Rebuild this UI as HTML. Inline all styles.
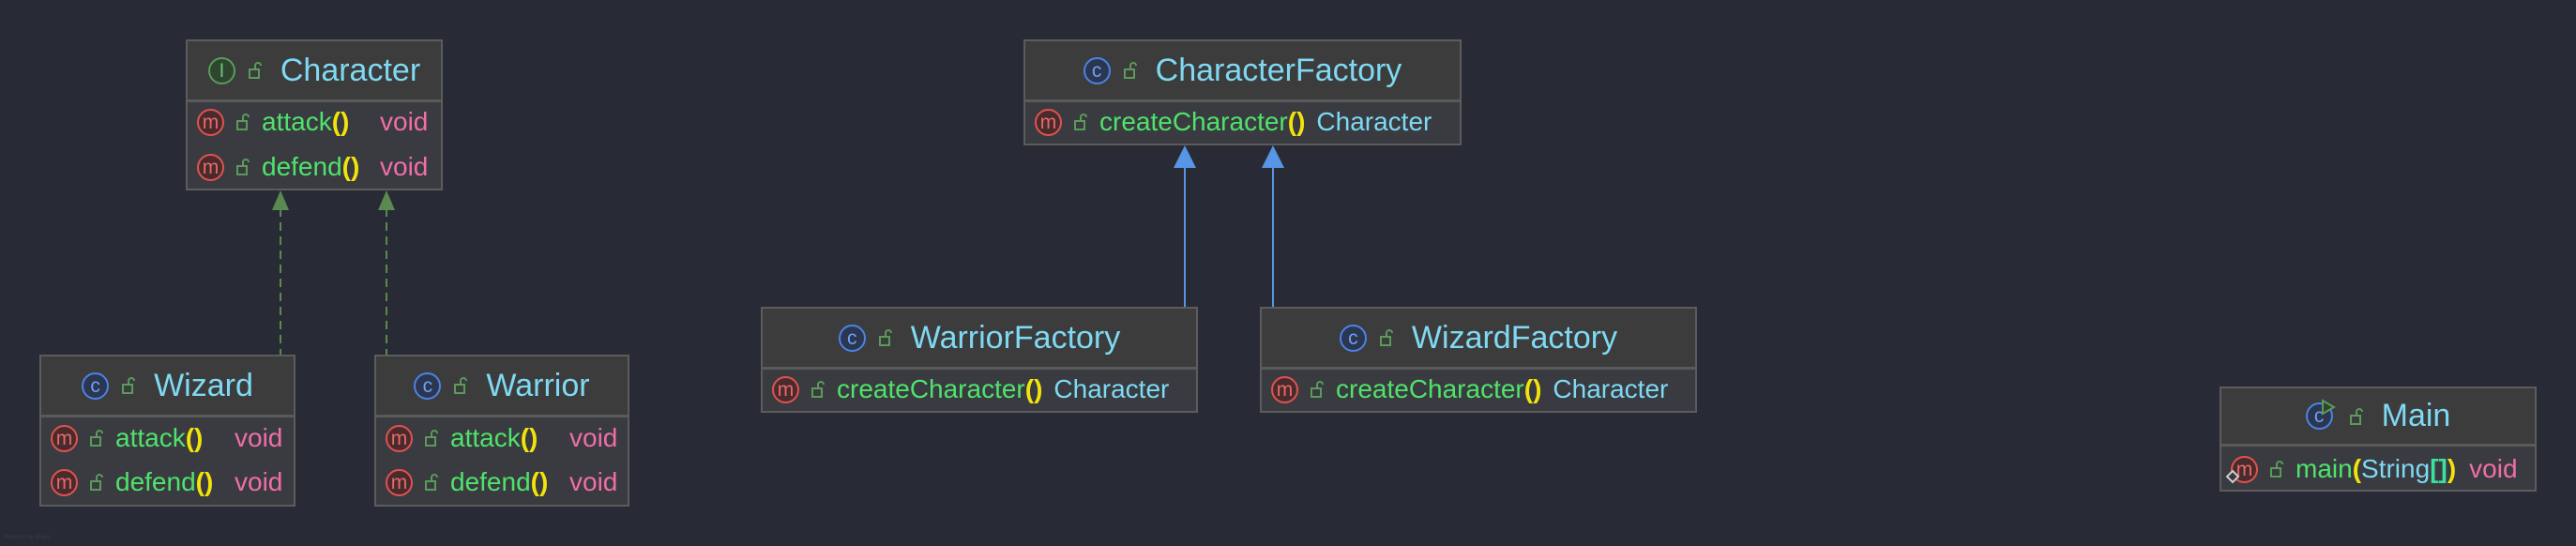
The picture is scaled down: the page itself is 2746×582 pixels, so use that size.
<!DOCTYPE html>
<html><head><meta charset="utf-8"><style>
html,body{margin:0;padding:0;}
body{width:2746px;height:582px;background:#282a35;position:relative;overflow:hidden;font-family:"Liberation Sans","DejaVu Sans",sans-serif;}
.box{position:absolute;background:#393b40;border:2px solid #5c5c5c;box-sizing:border-box;}
.hd{position:absolute;left:0;right:0;top:0;background:#3c3c3c;border-bottom:3px solid #5a5a5a;display:flex;align-items:center;justify-content:center;gap:14px;}
.nm{color:#7fd9f3;font-size:34px;margin-left:6px;}
.row{position:absolute;left:10px;height:40px;display:flex;align-items:center;font-size:28px;white-space:nowrap;}
.ic{width:29px;height:29px;border-radius:50%;box-sizing:border-box;display:inline-flex;align-items:center;justify-content:center;font-size:21px;line-height:1;flex:none;}
.ci{border:2px solid #5a9a5a;background:#2e4630;color:#6fbf6f;}
.cc{border:2px solid #4d82e6;background:#2b3650;color:#6fa0f0;}
.cm{border:2px solid #e0524f;background:#4a2b2d;color:#e56b68;}
.lk{width:14px;height:20px;margin:0 13px 0 13px;flex:none;}
.g{color:#4fe36b}.y{color:#f2e40a;font-weight:bold}.p{color:#f06ea9}.c{color:#7fd9f3}.t{color:#3ee0a0;font-weight:bold}
.ty{position:absolute;}
</style></head><body>
<svg width="2746" height="582" style="position:absolute;left:0;top:0">
<g stroke="#5b8a50" stroke-width="2" stroke-dasharray="9,6" fill="none">
<line x1="299" y1="222" x2="299" y2="378"/><line x1="412" y1="222" x2="412" y2="378"/>
</g>
<polygon points="299,203 290,224 308,224" fill="#5b8a50"/>
<polygon points="412,203 403,224 421,224" fill="#5b8a50"/>
<g stroke="#5795e6" stroke-width="2"><line x1="1263" y1="175" x2="1263" y2="327"/><line x1="1357" y1="175" x2="1357" y2="327"/></g>
<polygon points="1263,155 1251,179 1275,179" fill="#5795e6"/>
<polygon points="1357,155 1345,179 1369,179" fill="#5795e6"/>
</svg>

<!-- Character -->
<div class="box" style="left:198px;top:42px;width:274px;height:161px">
 <div class="hd" style="height:62px"><span class="ic ci">I</span><svg class="lk" style="margin:0" viewBox="0 0 14 20"><rect x="1" y="9" width="10" height="9" fill="none" stroke="#5a9a5a" stroke-width="2"/><path d="M7 9V5a3 3 0 0 1 6 0" fill="none" stroke="#5a9a5a" stroke-width="2"/></svg><span class="nm">Character</span></div>
 <div class="row" style="top:66px"><span class="ic cm">m</span><svg class="lk" viewBox="0 0 14 20"><rect x="1" y="9" width="10" height="9" fill="none" stroke="#5a9a5a" stroke-width="2"/><path d="M7 9V5a3 3 0 0 1 6 0" fill="none" stroke="#5a9a5a" stroke-width="2"/></svg><span class="g">attack</span><span class="y">()</span><span class="p ty" style="left:195px">void</span></div>
 <div class="row" style="top:114px"><span class="ic cm">m</span><svg class="lk" viewBox="0 0 14 20"><rect x="1" y="9" width="10" height="9" fill="none" stroke="#5a9a5a" stroke-width="2"/><path d="M7 9V5a3 3 0 0 1 6 0" fill="none" stroke="#5a9a5a" stroke-width="2"/></svg><span class="g">defend</span><span class="y">()</span><span class="p ty" style="left:195px">void</span></div>
</div>

<!-- Wizard -->
<div class="box" style="left:42px;top:378px;width:273px;height:162px">
 <div class="hd" style="height:62px"><span class="ic cc">c</span><svg class="lk" style="margin:0" viewBox="0 0 14 20"><rect x="1" y="9" width="10" height="9" fill="none" stroke="#5a9a5a" stroke-width="2"/><path d="M7 9V5a3 3 0 0 1 6 0" fill="none" stroke="#5a9a5a" stroke-width="2"/></svg><span class="nm">Wizard</span></div>
 <div class="row" style="top:67px"><span class="ic cm">m</span><svg class="lk" viewBox="0 0 14 20"><rect x="1" y="9" width="10" height="9" fill="none" stroke="#5a9a5a" stroke-width="2"/><path d="M7 9V5a3 3 0 0 1 6 0" fill="none" stroke="#5a9a5a" stroke-width="2"/></svg><span class="g">attack</span><span class="y">()</span><span class="p ty" style="left:196px">void</span></div>
 <div class="row" style="top:114px"><span class="ic cm">m</span><svg class="lk" viewBox="0 0 14 20"><rect x="1" y="9" width="10" height="9" fill="none" stroke="#5a9a5a" stroke-width="2"/><path d="M7 9V5a3 3 0 0 1 6 0" fill="none" stroke="#5a9a5a" stroke-width="2"/></svg><span class="g">defend</span><span class="y">()</span><span class="p ty" style="left:196px">void</span></div>
</div>

<!-- Warrior -->
<div class="box" style="left:399px;top:378px;width:272px;height:162px">
 <div class="hd" style="height:62px"><span class="ic cc">c</span><svg class="lk" style="margin:0" viewBox="0 0 14 20"><rect x="1" y="9" width="10" height="9" fill="none" stroke="#5a9a5a" stroke-width="2"/><path d="M7 9V5a3 3 0 0 1 6 0" fill="none" stroke="#5a9a5a" stroke-width="2"/></svg><span class="nm">Warrior</span></div>
 <div class="row" style="top:67px"><span class="ic cm">m</span><svg class="lk" viewBox="0 0 14 20"><rect x="1" y="9" width="10" height="9" fill="none" stroke="#5a9a5a" stroke-width="2"/><path d="M7 9V5a3 3 0 0 1 6 0" fill="none" stroke="#5a9a5a" stroke-width="2"/></svg><span class="g">attack</span><span class="y">()</span><span class="p ty" style="left:196px">void</span></div>
 <div class="row" style="top:114px"><span class="ic cm">m</span><svg class="lk" viewBox="0 0 14 20"><rect x="1" y="9" width="10" height="9" fill="none" stroke="#5a9a5a" stroke-width="2"/><path d="M7 9V5a3 3 0 0 1 6 0" fill="none" stroke="#5a9a5a" stroke-width="2"/></svg><span class="g">defend</span><span class="y">()</span><span class="p ty" style="left:196px">void</span></div>
</div>

<!-- CharacterFactory -->
<div class="box" style="left:1091px;top:42px;width:467px;height:113px">
 <div class="hd" style="height:62px"><span class="ic cc">c</span><svg class="lk" style="margin:0" viewBox="0 0 14 20"><rect x="1" y="9" width="10" height="9" fill="none" stroke="#5a9a5a" stroke-width="2"/><path d="M7 9V5a3 3 0 0 1 6 0" fill="none" stroke="#5a9a5a" stroke-width="2"/></svg><span class="nm">CharacterFactory</span></div>
 <div class="row" style="top:66px"><span class="ic cm">m</span><svg class="lk" viewBox="0 0 14 20"><rect x="1" y="9" width="10" height="9" fill="none" stroke="#5a9a5a" stroke-width="2"/><path d="M7 9V5a3 3 0 0 1 6 0" fill="none" stroke="#5a9a5a" stroke-width="2"/></svg><span class="g">createCharacter</span><span class="y">()</span><span class="c" style="margin-left:12px">Character</span></div>
</div>

<!-- WarriorFactory -->
<div class="box" style="left:811px;top:327px;width:466px;height:113px">
 <div class="hd" style="height:62px"><span class="ic cc">c</span><svg class="lk" style="margin:0" viewBox="0 0 14 20"><rect x="1" y="9" width="10" height="9" fill="none" stroke="#5a9a5a" stroke-width="2"/><path d="M7 9V5a3 3 0 0 1 6 0" fill="none" stroke="#5a9a5a" stroke-width="2"/></svg><span class="nm">WarriorFactory</span></div>
 <div class="row" style="top:66px"><span class="ic cm">m</span><svg class="lk" viewBox="0 0 14 20"><rect x="1" y="9" width="10" height="9" fill="none" stroke="#5a9a5a" stroke-width="2"/><path d="M7 9V5a3 3 0 0 1 6 0" fill="none" stroke="#5a9a5a" stroke-width="2"/></svg><span class="g">createCharacter</span><span class="y">()</span><span class="c" style="margin-left:12px">Character</span></div>
</div>

<!-- WizardFactory -->
<div class="box" style="left:1343px;top:327px;width:466px;height:113px">
 <div class="hd" style="height:62px"><span class="ic cc">c</span><svg class="lk" style="margin:0" viewBox="0 0 14 20"><rect x="1" y="9" width="10" height="9" fill="none" stroke="#5a9a5a" stroke-width="2"/><path d="M7 9V5a3 3 0 0 1 6 0" fill="none" stroke="#5a9a5a" stroke-width="2"/></svg><span class="nm">WizardFactory</span></div>
 <div class="row" style="top:66px"><span class="ic cm">m</span><svg class="lk" viewBox="0 0 14 20"><rect x="1" y="9" width="10" height="9" fill="none" stroke="#5a9a5a" stroke-width="2"/><path d="M7 9V5a3 3 0 0 1 6 0" fill="none" stroke="#5a9a5a" stroke-width="2"/></svg><span class="g">createCharacter</span><span class="y">()</span><span class="c" style="margin-left:12px">Character</span></div>
</div>

<!-- Main -->
<div class="box" style="left:2366px;top:412px;width:338px;height:112px">
 <div class="hd" style="height:59px"><span class="ic cc" style="position:relative">c<svg style="position:absolute;left:14px;top:-6px" width="16" height="18" viewBox="0 0 16 18"><polygon points="2,2 14,9 2,16" fill="#2e4630" stroke="#5a9a5a" stroke-width="2"/></svg></span><svg class="lk" style="margin:0 0 0 4px" viewBox="0 0 14 20"><rect x="1" y="9" width="10" height="9" fill="none" stroke="#5a9a5a" stroke-width="2"/><path d="M7 9V5a3 3 0 0 1 6 0" fill="none" stroke="#5a9a5a" stroke-width="2"/></svg><span class="nm">Main</span></div>
 <div class="row" style="top:66px"><span class="ic cm" style="position:relative">m<svg style="position:absolute;left:-8px;top:12px" width="16" height="16" viewBox="0 0 16 16"><polygon points="8,2 14,8 8,14 2,8" fill="#393b40" stroke="#cfcfcf" stroke-width="2"/></svg></span><svg class="lk" viewBox="0 0 14 20"><rect x="1" y="9" width="10" height="9" fill="none" stroke="#5a9a5a" stroke-width="2"/><path d="M7 9V5a3 3 0 0 1 6 0" fill="none" stroke="#5a9a5a" stroke-width="2"/></svg><span class="g">main</span><span class="y">(</span><span class="c">String</span><span class="t">[]</span><span class="y">)</span><span class="p" style="margin-left:14px">void</span></div>
</div>

<div style="position:absolute;left:4px;top:570px;font-size:6px;color:#3a3d48">Powered by yFiles</div>
</body></html>
